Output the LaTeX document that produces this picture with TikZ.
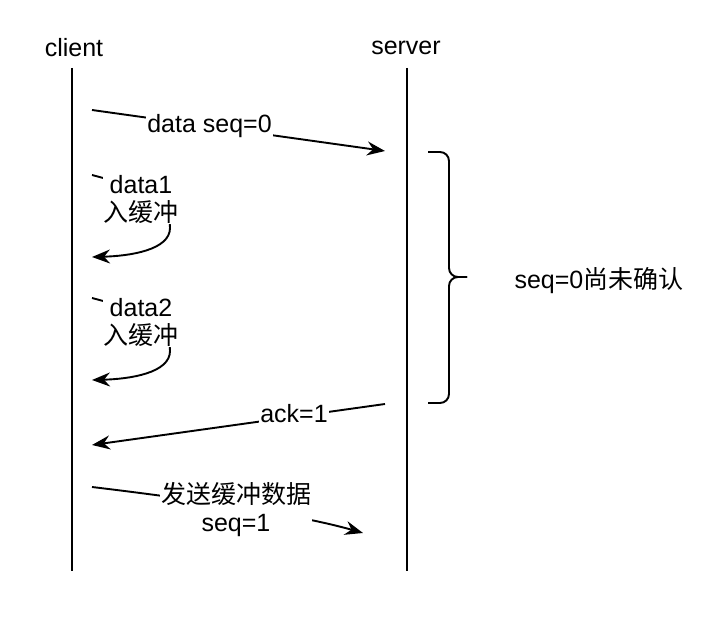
\documentclass[tikz,border=0pt]{standalone}
\usepackage{fontspec}
\setmainfont{Liberation Sans}
\newfontfamily\cjk{Noto Sans CJK SC}
\usetikzlibrary{arrows.meta}
\begin{document}
\begin{tikzpicture}[x=1pt,y=-1pt,
  lbl/.style={font=\fontsize{25}{28}\selectfont, align=center, inner sep=0pt},
  wlbl/.style={lbl, fill=white, inner xsep=1pt, inner ysep=1pt},
  life/.style={line width=1.9pt},
  msg/.style={line width=1.9pt, -{Stealth[length=18pt,width=14pt,inset=6pt]}},
  brace/.style={line width=1.9pt, rounded corners=9pt},
]
\useasboundingbox (0,0) rectangle (710,631);
% lifelines
\node[lbl] (client) at (74,48) {client};
\node[lbl] (server) at (406,48) {server};
\coordinate (ct) at (72,68);
\coordinate (cb) at (72,571);
\coordinate (st) at (407,68);
\coordinate (sb) at (407,571);
\draw[life] (ct) -- (cb);
\draw[life] (st) -- (sb);
% data seq=0
\coordinate (m1s) at (92,110);
\coordinate (m1e) at (385,151);
\draw[msg] (m1s) -- (m1e);
\node[wlbl] (m1l) at (209.5,126) {data seq=0};
% data1
\coordinate (d1s) at (92,175);
\coordinate (d1e) at (92,257);
\draw[msg] (d1s) .. controls (150,190) and (170,205) .. (170,228) .. controls (170,250) and (130,256) .. (d1e);
\node[wlbl] (d1l) at (141,199) {data1\\{\cjk 入缓冲}};
% data2
\coordinate (d2s) at (92,298);
\coordinate (d2e) at (92,380);
\draw[msg] (d2s) .. controls (150,313) and (170,328) .. (170,351) .. controls (170,373) and (130,379) .. (d2e);
\node[wlbl] (d2l) at (141,322) {data2\\{\cjk 入缓冲}};
% ack=1
\coordinate (as) at (385,404);
\coordinate (ae) at (92,445);
\draw[msg] (as) -- (ae);
\node[wlbl] (al) at (294,414) {ack=1};
% send buffer
\coordinate (bs) at (92,487);
\coordinate (be) at (363,533);
\draw[msg] (bs) .. controls (200,500) and (300,515) .. (be);
\node[wlbl] (bl) at (236,510) {{\cjk 发送缓冲数据}\\seq=1};
% brace
\coordinate (bt) at (428,152);
\coordinate (bb) at (428,403);
\coordinate (tip) at (467,277);
\draw[brace] (bt) -| (449,277) -- (tip);
\draw[brace] (bb) -| (449,277) -- (tip);
\node[lbl] (note) at (599,281) {seq=0{\cjk 尚未确认}};
\end{tikzpicture}
\end{document}
